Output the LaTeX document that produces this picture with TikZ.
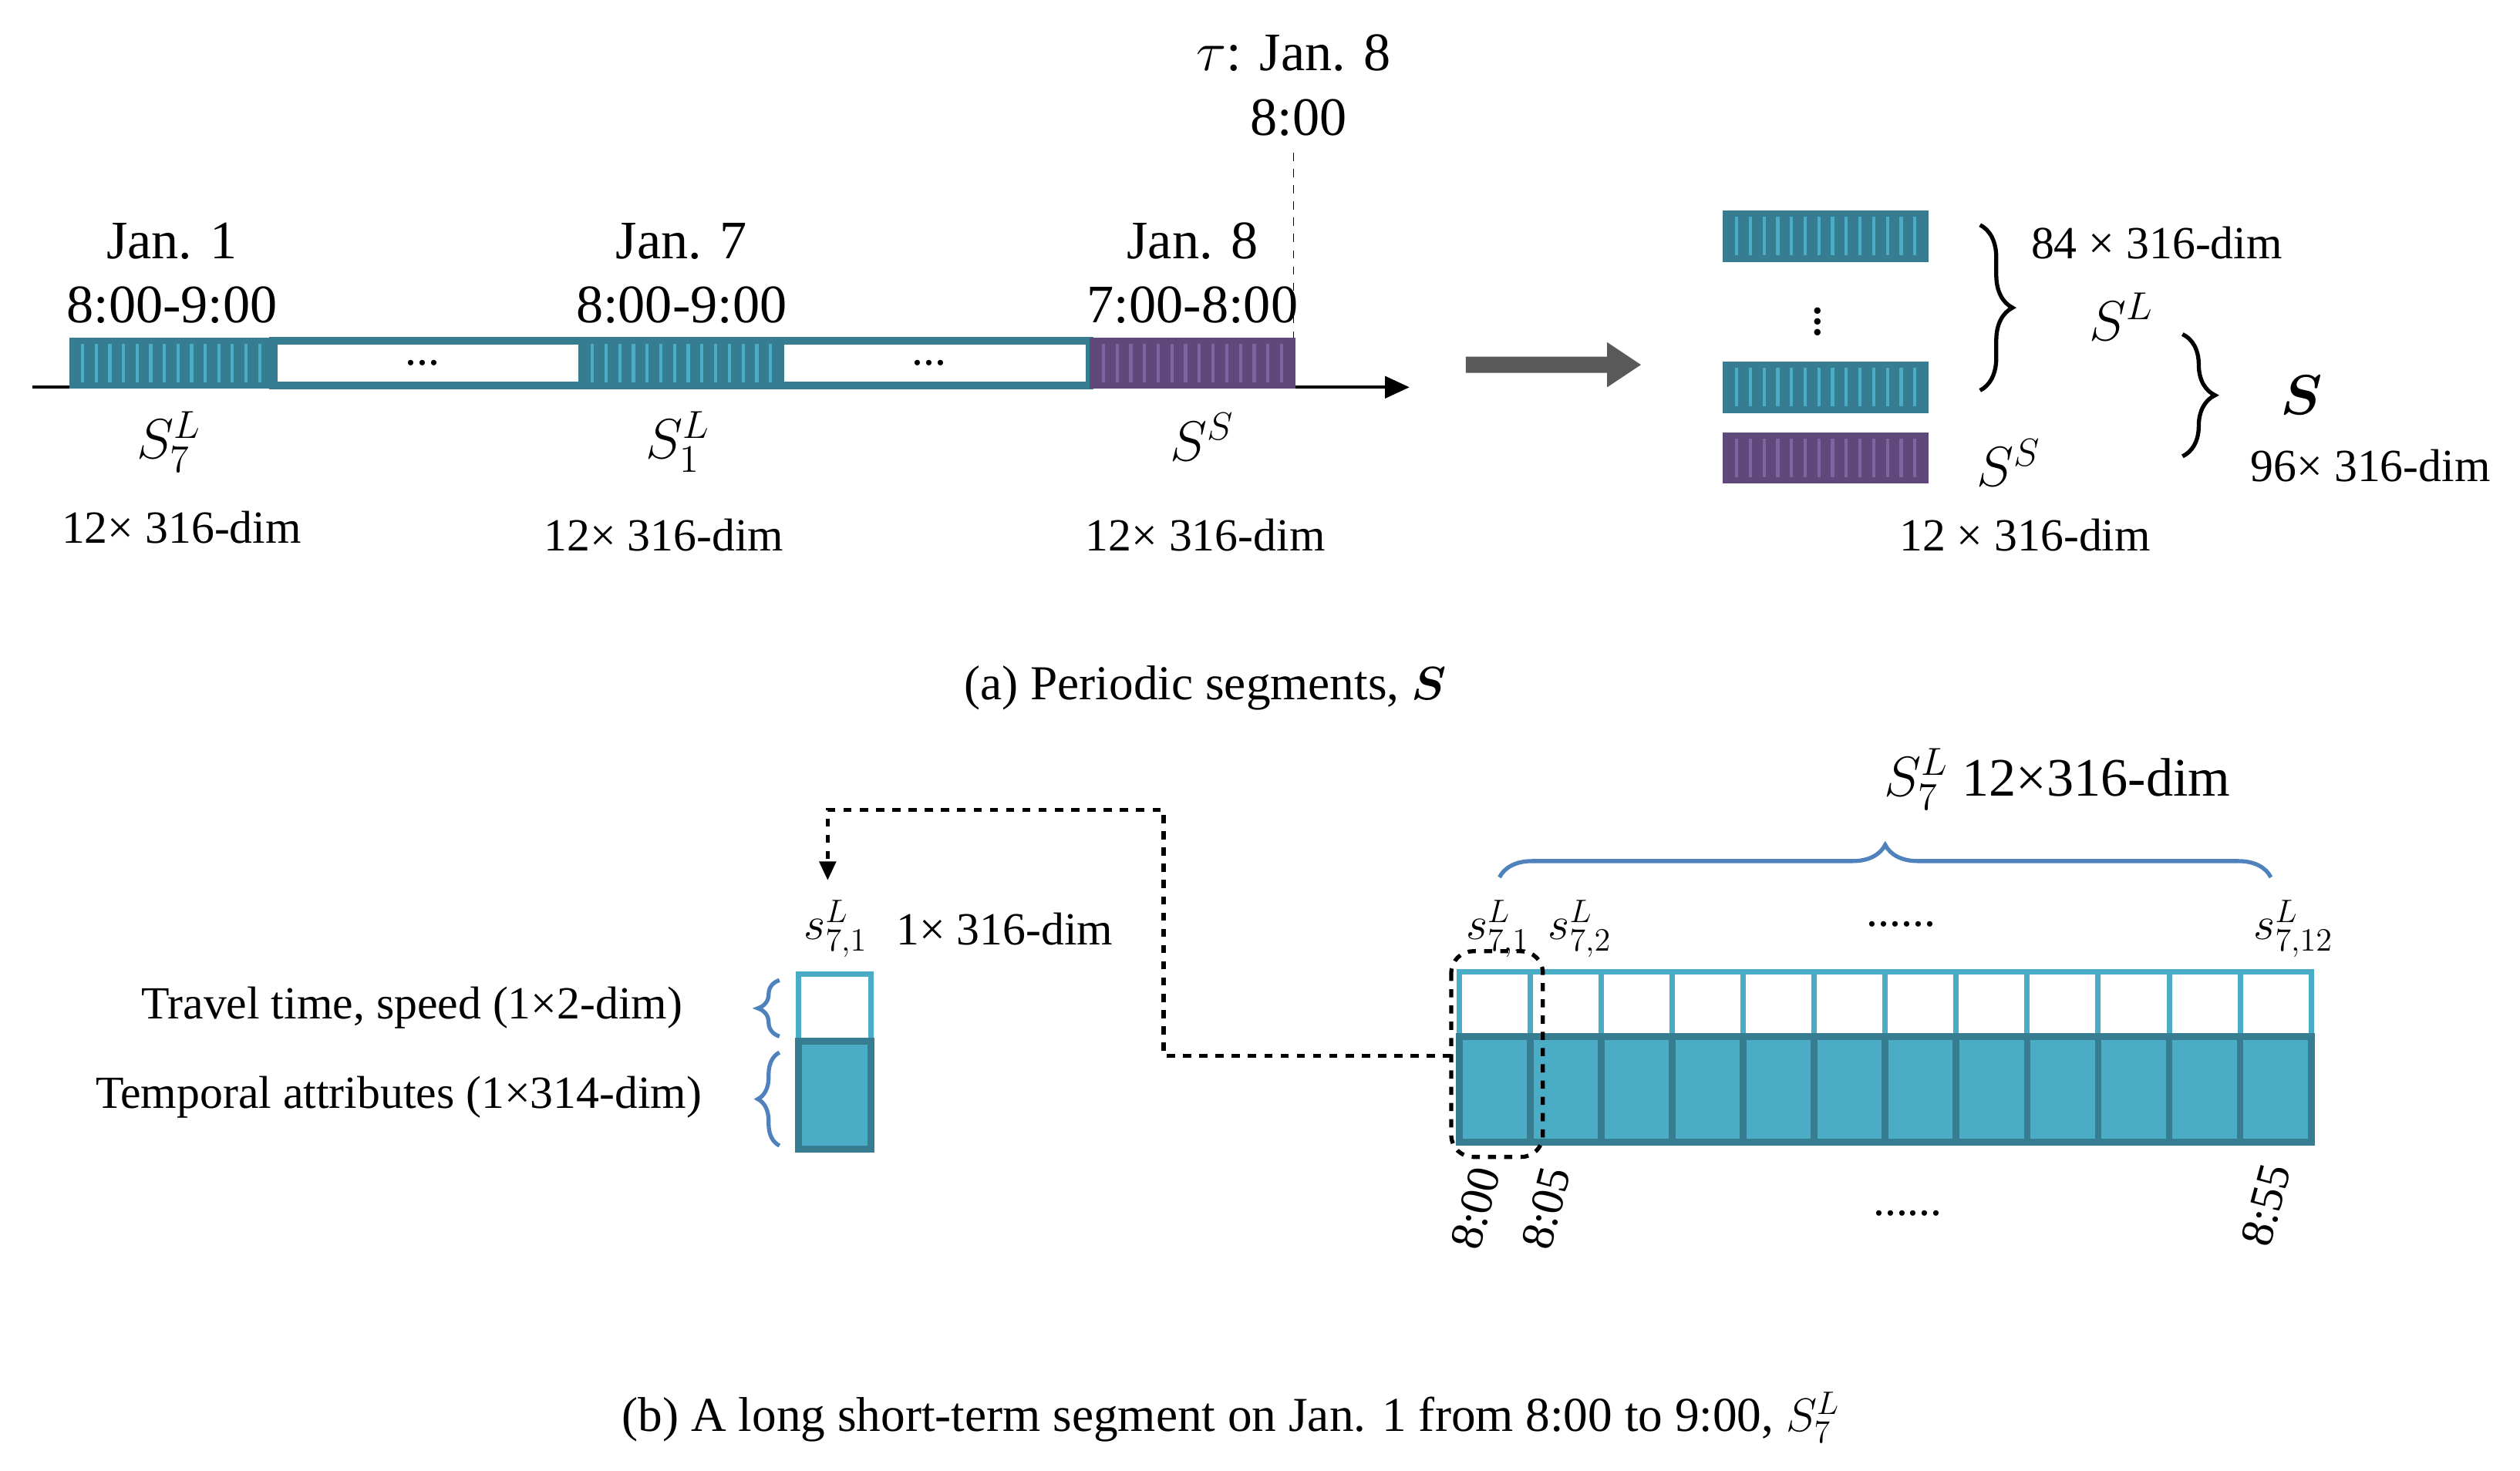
\documentclass[tikz,border=0pt]{standalone}
\usepackage{amsmath,bm}
\usepackage{fontspec}
\setmainfont{Liberation Serif}
\usetikzlibrary{arrows.meta,decorations.pathreplacing,calc}
\definecolor{tl}{HTML}{4BACC6}
\definecolor{td}{HTML}{367D91}
\definecolor{pl}{HTML}{8064A2}
\definecolor{pd}{HTML}{5F497A}
\definecolor{bb}{HTML}{4F81BD}
\begin{document}
\begin{tikzpicture}[x=0.02084cm,y=-0.02084cm,
  big/.style={font=\fontsize{20}{24}\selectfont,inner sep=0pt},
  mid/.style={font=\fontsize{17}{20}\selectfont,inner sep=0pt},
  captxt/.style={font=\fontsize{18}{22}\selectfont,inner sep=0pt}]
\useasboundingbox (0,0) rectangle (1568,915);
\newcommand{\stripe}[6]{%
  \fill[#5] (#1,#2) rectangle (#3,#4);
  \foreach \i in {1,...,14}{\draw[#6,line width=1.2pt] ({#1+(#3-#1)*\i/15},{#2+4}) -- ({#1+(#3-#1)*\i/15},{#4-4});}
}
% ---------- (a) ----------
\draw[line width=1.2pt,-{Triangle[length=9pt,width=8pt]}] (20,241) coordinate (ax0) -- (877,241) coordinate (ax1);
\draw[td,line width=3pt,fill=white] (170,212) rectangle (678,240);
\stripe{43}{210}{170}{242}{td}{tl}
\stripe{360}{210}{488}{242}{td}{tl}
\stripe{678}{210}{806}{242}{pd}{pl}
\node[mid] at (263,226) {...};
\node[mid] at (578,226) {...};
\node[big] (tau) at (805,33) {$\tau$: Jan. 8};
\node[big] (tau2) at (808,73) {8:00};
\draw[dashed] (805,95) coordinate (dt) -- (805,210);
\node[big] at (107,150) {Jan. 1};
\node[big] at (107,190) {8:00-9:00};
\node[big] at (424,150) {Jan. 7};
\node[big] at (424,190) {8:00-9:00};
\node[big] at (742,150) {Jan. 8};
\node[big] at (742,190) {7:00-8:00};
\node[big] at (105,275) {$S_7^L$};
\node[big] at (422,275) {$S_1^L$};
\node[big] at (748,272) {$S^S$};
\node[mid] at (113,328) {12× 316-dim};
\node[mid] at (413,333) {12× 316-dim};
\node[mid] at (750,333) {12× 316-dim};
\fill[black!65] (912,222) -- (1000,222) -- (1000,213) -- (1021,227) -- (1000,241) -- (1000,232) -- (912,232) -- cycle;
\stripe{1072}{131}{1200}{163}{td}{tl}
\stripe{1072}{225}{1200}{257}{td}{tl}
\stripe{1072}{269}{1200}{301}{pd}{pl}
\node[big] at (1131,195) {$\vdots$};
\draw[decorate,decoration={brace,amplitude=12pt},line width=1.5pt] (1232,140) -- (1232,243);
\node[mid] at (1342,151) {84 × 316-dim};
\node[big] at (1320,197) {$S^L$};
\draw[decorate,decoration={brace,amplitude=12pt},line width=1.5pt] (1358,208) -- (1358,284);
\node[big] at (1432,246) {$\bm{S}$};
\node[mid] at (1475,290) {96× 316-dim};
\node[big] at (1250,288) {$S^S$};
\node[mid] at (1260,333) {12 × 316-dim};
\node[captxt] at (750,428) {(a) Periodic segments, $\bm{S}$};
% ---------- (b) ----------
\node[big] at (1280,485) {$S_7^L$ 12×316-dim};
\draw[bb,line width=1.5pt,decorate,decoration={brace,amplitude=12pt}] (933,546) -- (1413,546);
\node[mid] at (932,578) {$s_{7,1}^L$};
\node[mid] at (983,578) {$s_{7,2}^L$};
\node[mid] at (1183,575) {......};
\node[mid] at (1427,578) {$s_{7,12}^L$};
\foreach \i in {0,...,11}{
  \pgfmathsetmacro{\xa}{908+\i*44.17}\pgfmathsetmacro{\xb}{908+(\i+1)*44.17}
  \draw[tl,line width=2pt] (\xa,605) rectangle (\xb,645);
}
\foreach \i in {0,...,11}{
  \pgfmathsetmacro{\xa}{908+\i*44.17}\pgfmathsetmacro{\xb}{908+(\i+1)*44.17}
  \draw[td,fill=tl,line width=2.5pt] (\xa,645) rectangle (\xb,711);
}
\draw[dashed,line width=1.5pt,rounded corners=8pt] (903,592) rectangle (960,720);
\coordinate (db) at (903,657);
\node[mid,rotate=75] at (918,752) {8:00};
\node[mid,rotate=75] at (962,752) {8:05};
\node[mid,rotate=75] at (1410,750) {8:55};
\node[mid] at (1187,755) {......};
\node[mid] (s71) at (520,578) {$s_{7,1}^L$};
\node[mid] at (625,578) {1× 316-dim};
\draw[tl,line width=2pt] (497,606) rectangle (542,648);
\draw[td,fill=tl,line width=2.5pt] (497,648) rectangle (542,715);
\coordinate (k1) at (724,504);
\draw[dashed,line width=1.5pt,-{Triangle[length=7pt,width=6pt]}] (db) -| (k1) -| ($(s71.north)+(-5,-12)$);
\draw[bb,line width=1.5pt,decorate,decoration={brace,amplitude=8pt}] (485,645) -- (485,610);
\draw[bb,line width=1.5pt,decorate,decoration={brace,amplitude=8pt}] (485,713) -- (485,655);
\node[mid,anchor=east] at (425,627) {Travel time, speed (1×2-dim)};
\node[mid,anchor=east] at (437,683) {Temporal attributes (1×314-dim)};
\node[captxt] at (766,882) {(b) A long short-term segment on Jan. 1 from 8:00 to 9:00, $S_7^L$};
\end{tikzpicture}
\end{document}
